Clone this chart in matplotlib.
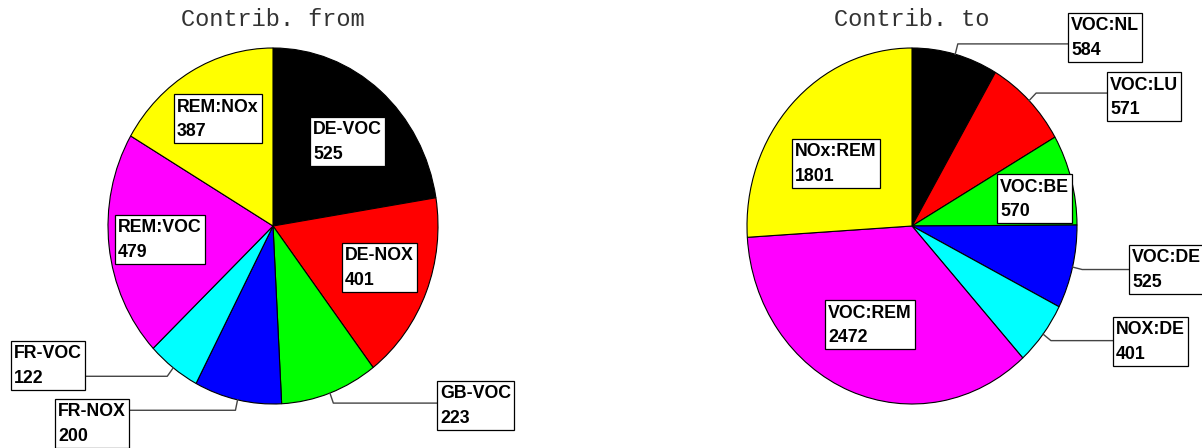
import numpy as np
import matplotlib
matplotlib.use("Agg")
import matplotlib.pyplot as plt
from matplotlib.patches import Rectangle

# data
from_labels = ["DE-VOC", "DE-NOX", "GB-VOC", "FR-NOX", "FR-VOC", "REM:VOC", "REM:NOx"]
from_values = [525, 401, 223, 200, 122, 479, 387]
to_labels = ["VOC:NL", "VOC:LU", "VOC:BE", "VOC:DE", "NOX:DE", "VOC:REM", "NOx:REM"]
to_values = [584, 571, 570, 525, 401, 2472, 1801]
colors = ["#000000", "#ff0000", "#00ff00", "#0000ff", "#00ffff", "#ff00ff", "#ffff00"]

# layout (pixels): box top-left, and whether the label sits outside with a leader
from_boxes = [(310, 117), (342, 243), (437, 381), (55, 399), (11, 341), (115, 215), (174, 94)]
from_outer = [False, False, True, True, True, False, False]
to_boxes = [(1068, 13), (1107, 72), (997, 174), (1129, 245), (1113, 317), (825, 300), (792, 139)]
to_outer = [True, True, False, True, True, False, False]

W, H = 1202, 448
RX, RY = 165, 178
BOX_H = 49

fig = plt.figure(figsize=(W / 100, H / 100), dpi=100)
over = fig.add_axes([0, 0, 1, 1], zorder=10)
over.set_xlim(0, W)
over.set_ylim(H, 0)
over.axis("off")
over.patch.set_alpha(0)

boxes_todo = []

def draw_pie(cx, cy, values, labels, boxes, outer, title):
    ax = fig.add_axes([(cx - RX) / W, (H - cy - RY) / H, 2 * RX / W, 2 * RY / H])
    wedges, _ = ax.pie(values, colors=colors, startangle=90, counterclock=False,
                       radius=1, wedgeprops=dict(edgecolor="black", linewidth=0.8))
    ax.set_aspect("auto")
    ax.set_xlim(-1, 1)
    ax.set_ylim(-1, 1)
    ax.axis("off")

    for w, lab, v, (bx, by), out in zip(wedges, labels, values, boxes, outer):
        kw = dict(ha="left", va="baseline", fontsize=12.8, fontweight="bold",
                  family="Liberation Sans", zorder=6)
        t1 = over.text(bx + 3, by + 17.5, lab, **kw)
        t2 = over.text(bx + 3, by + 42, str(v), **kw)
        boxes_todo.append((bx, by, t1, t2))
        if out:
            a = np.deg2rad((w.theta1 + w.theta2) / 2)
            x0, y0 = cx + RX * np.cos(a), cy - RY * np.sin(a)
            x1, y1 = cx + RX * 1.06 * np.cos(a), cy - RY * 1.06 * np.sin(a)
            over.plot([x0, x1, bx + 20], [y0, y1, y1], color="#444444", lw=1, zorder=3)

    over.text(cx, 20, title, ha="center", va="center", fontsize=17,
              family="Liberation Mono", color="#333333")

draw_pie(273, 226, from_values, from_labels, from_boxes, from_outer, "Contrib. from")
draw_pie(912, 226, to_values, to_labels, to_boxes, to_outer, "Contrib. to")

# boxes sized to the text
fig.canvas.draw()
r = fig.canvas.get_renderer()
for bx, by, t1, t2 in boxes_todo:
    right = max(t1.get_window_extent(r).x1, t2.get_window_extent(r).x1)
    bw = right + 3 - bx
    over.add_patch(Rectangle((bx, by), bw, BOX_H, fc="white", ec="black", lw=0.9, zorder=5))

fig.savefig("out.png", dpi=100, facecolor="white")
